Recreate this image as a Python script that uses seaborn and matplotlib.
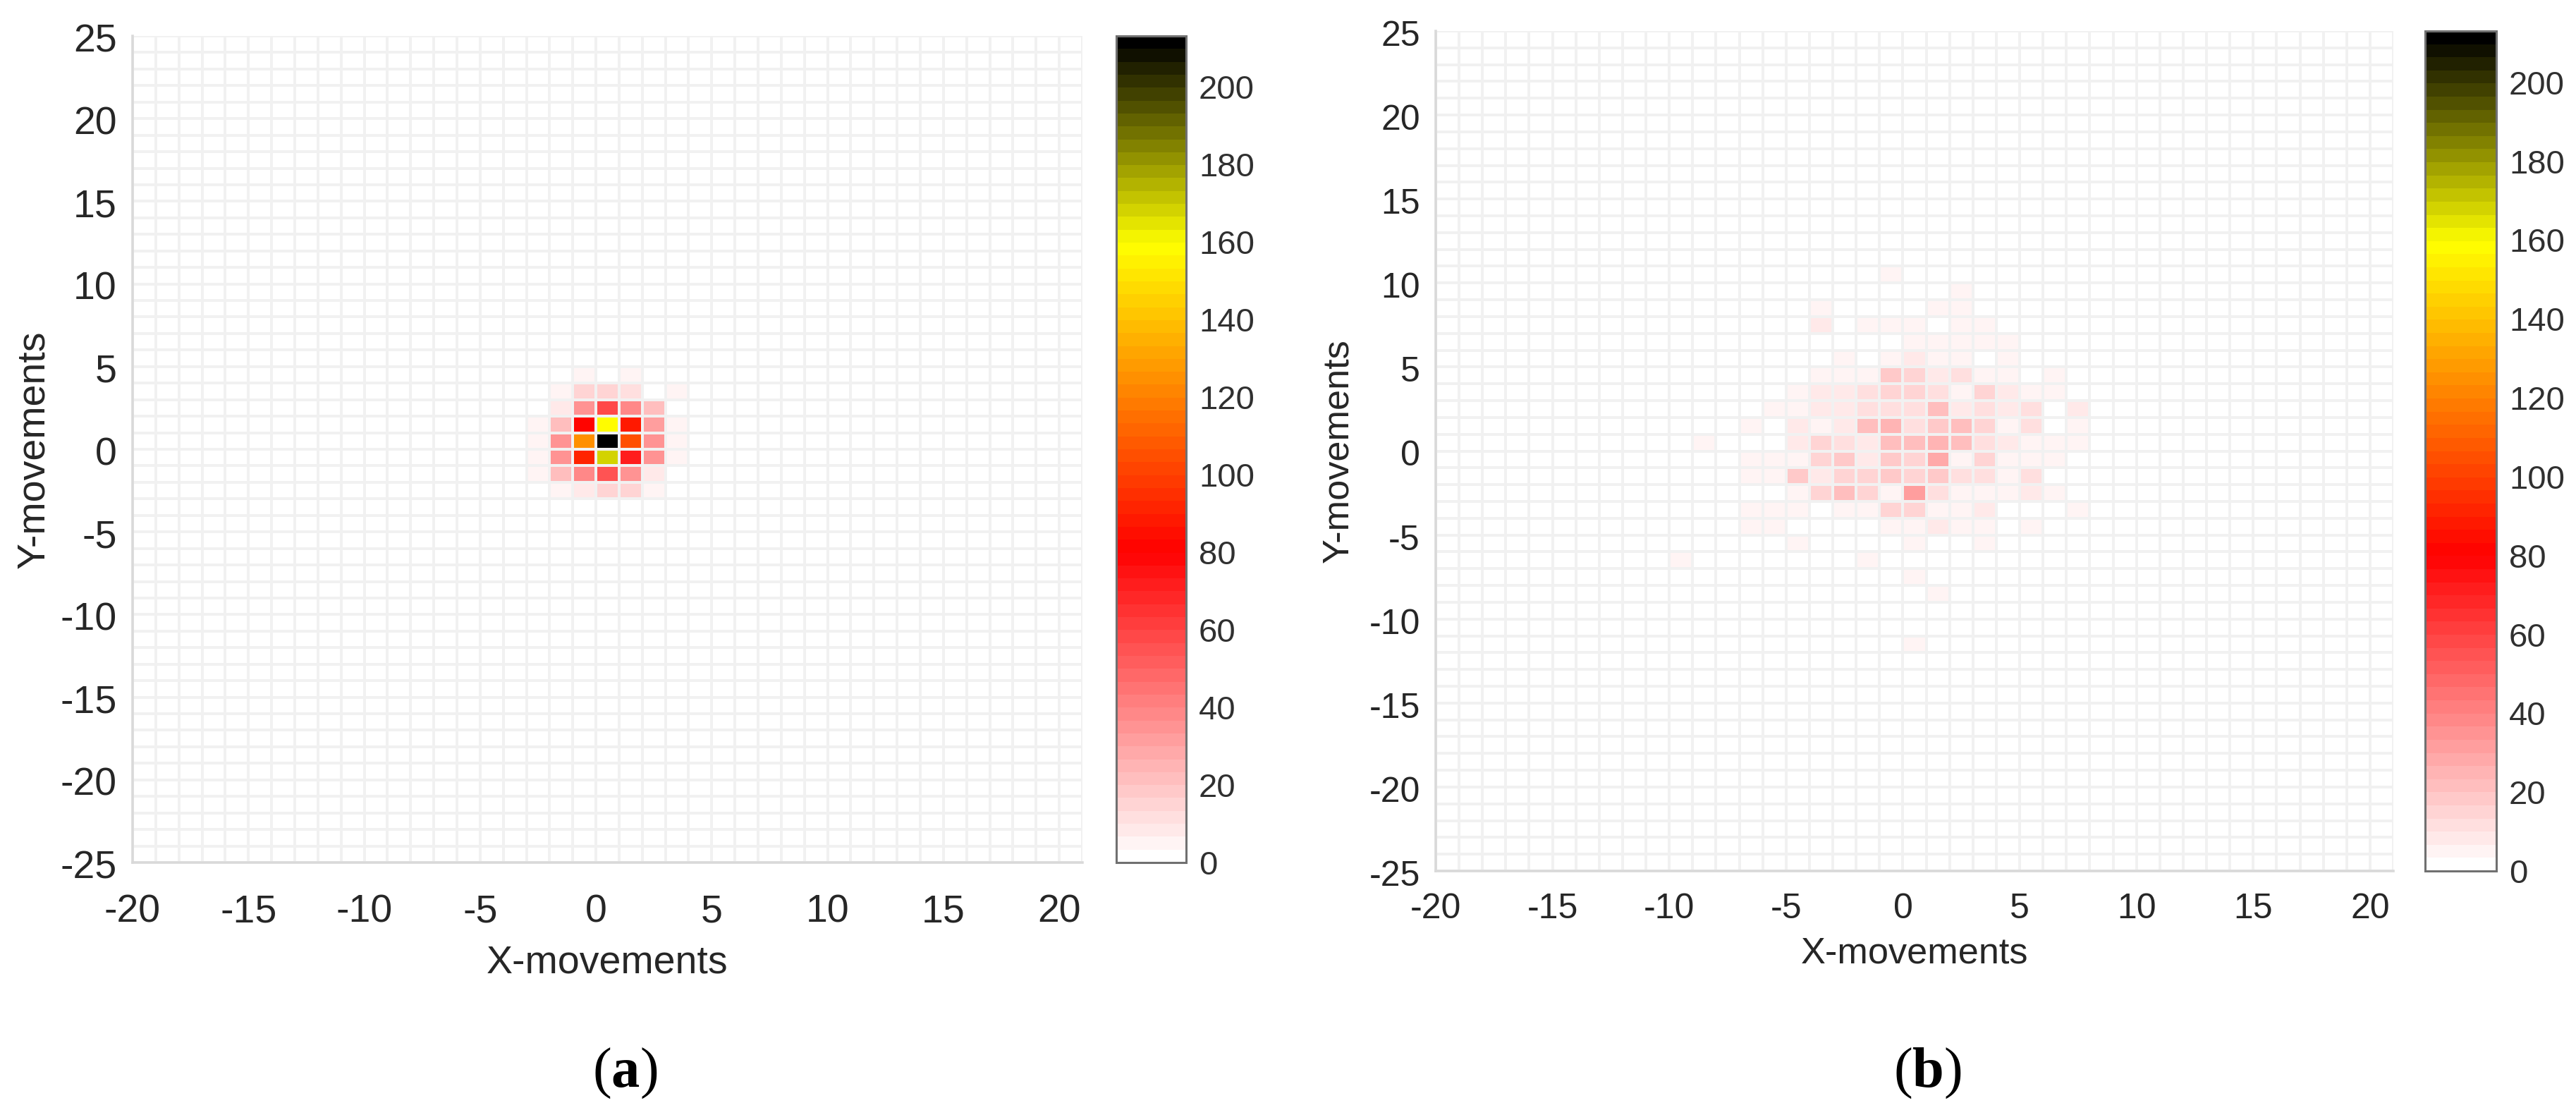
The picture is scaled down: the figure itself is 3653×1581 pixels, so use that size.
import matplotlib
matplotlib.use("Agg")
import matplotlib.pyplot as plt
import matplotlib.transforms as mtransforms
import numpy as np
import pandas as pd
import seaborn as sns
from matplotlib.colors import LinearSegmentedColormap

W, H = 3653, 1581
DPI = 200

x_bins = list(range(-20, 21))
y_bins = list(range(24, -26, -1))
x_ticks = [-20, -15, -10, -5, 0, 5, 10, 15, 20]
y_ticks = [25, 20, 15, 10, 5, 0, -5, -10, -15, -20, -25]
cbar_ticks = [0, 20, 40, 60, 80, 100, 120, 140, 160, 180, 200]
vmax = 213

# panel (a): only the occupied block, everything else is 0
a_cols = [-3, -2, -1, 0, 1, 2, 3]
a_rows = [4, 3, 2, 1, 0, -1, -2, -3]
a_counts = [
    [0, 0, 5, 0, 5, 0, 0],
    [0, 6, 14, 15, 12, 0, 5],
    [0, 9, 36, 58, 38, 22, 0],
    [5, 20, 80, 158, 88, 32, 5],
    [5, 36, 125, 213, 105, 36, 5],
    [6, 36, 92, 168, 72, 34, 5],
    [5, 20, 38, 56, 36, 8, 0],
    [0, 6, 9, 14, 14, 5, 0],
]

# panel (b)
b_cols = [-10, -9, -8, -7, -6, -5, -4, -3, -2, -1, 0, 1, 2, 3, 4, 5, 6, 7]
b_rows = [10, 9, 8, 7, 6, 5, 4, 3, 2, 1, 0, -1, -2, -3, -4, -5, -6, -7, -8, -9, -10, -11, -12]
b_counts = [
    [0, 0, 0, 0, 0, 0, 0, 0, 0, 5, 0, 0, 0, 0, 0, 0, 0, 0],
    [0, 0, 0, 0, 0, 0, 0, 0, 0, 0, 0, 0, 5, 0, 0, 0, 0, 0],
    [0, 0, 0, 0, 0, 0, 5, 0, 0, 0, 0, 5, 5, 0, 0, 0, 0, 0],
    [0, 0, 0, 0, 0, 0, 8, 0, 5, 5, 5, 0, 5, 5, 0, 0, 0, 0],
    [0, 0, 0, 0, 0, 0, 0, 0, 0, 0, 5, 5, 5, 5, 5, 0, 0, 0],
    [0, 0, 0, 0, 0, 0, 0, 6, 0, 5, 7, 5, 5, 0, 5, 0, 0, 0],
    [0, 0, 0, 0, 0, 0, 5, 5, 5, 18, 14, 8, 12, 5, 5, 0, 5, 0],
    [0, 0, 0, 0, 0, 5, 8, 7, 12, 16, 14, 12, 5, 16, 7, 5, 6, 0],
    [0, 0, 0, 0, 5, 5, 9, 7, 12, 12, 12, 22, 7, 12, 7, 12, 0, 7],
    [0, 0, 0, 5, 0, 7, 5, 7, 20, 26, 11, 18, 21, 14, 5, 12, 0, 6],
    [0, 5, 0, 0, 0, 7, 14, 10, 8, 22, 20, 26, 22, 10, 7, 5, 6, 6],
    [0, 0, 0, 5, 5, 6, 14, 18, 8, 18, 14, 28, 6, 16, 5, 5, 5, 0],
    [0, 0, 0, 5, 5, 18, 8, 14, 14, 18, 14, 18, 12, 10, 6, 12, 0, 0],
    [0, 0, 0, 0, 0, 5, 16, 20, 14, 6, 30, 12, 6, 5, 5, 7, 5, 0],
    [0, 0, 0, 5, 5, 5, 0, 5, 6, 16, 16, 5, 6, 7, 0, 0, 0, 5],
    [0, 0, 0, 5, 5, 0, 0, 0, 0, 5, 5, 8, 5, 5, 0, 5, 0, 0],
    [0, 0, 0, 0, 0, 6, 0, 0, 0, 0, 5, 0, 0, 5, 0, 0, 0, 0],
    [5, 0, 0, 0, 0, 0, 0, 0, 5, 0, 0, 0, 0, 0, 0, 0, 0, 0],
    [0, 0, 0, 0, 0, 0, 0, 0, 0, 0, 5, 0, 0, 0, 0, 0, 0, 0],
    [0, 0, 0, 0, 0, 0, 0, 0, 0, 0, 0, 5, 0, 0, 0, 0, 0, 0],
    [0, 0, 0, 0, 0, 0, 0, 0, 0, 0, 0, 0, 0, 0, 0, 0, 0, 0],
    [0, 0, 0, 0, 0, 0, 0, 0, 0, 0, 0, 0, 0, 0, 0, 0, 0, 0],
    [0, 0, 0, 0, 0, 0, 0, 0, 0, 0, 5, 0, 0, 0, 0, 0, 0, 0],
]

# white -> red -> yellow -> black in 64 flat levels
cmap_colors = [(0, "#ffffff"), (80 / vmax, "#ff0000"), (160 / vmax, "#ffff00"), (1, "#000000")]
cmap = LinearSegmentedColormap.from_list("movement", cmap_colors, N=64)

sns.set_theme(style="white")
plt.rcParams["font.family"] = ["Liberation Sans", "DejaVu Sans"]
plt.rcParams["mathtext.fontset"] = "custom"
plt.rcParams["mathtext.rm"] = "Liberation Serif"
plt.rcParams["mathtext.bf"] = "Liberation Serif:bold"

fig = plt.figure(figsize=(W / DPI, H / DPI), dpi=DPI, facecolor="white")


def box(left, top, right, bottom):
    return [left / W, 1 - bottom / H, (right - left) / W, (bottom - top) / H]


def draw_panel(cols, rows, counts, ax_box, cax_box, tick_size, label_size, x_pad, y_pad, xlabel_top, ylabel_right):
    table = pd.DataFrame(np.array(counts), index=rows, columns=cols)
    table = table.reindex(index=y_bins, columns=x_bins).fillna(0)

    ax = fig.add_axes(box(*ax_box))
    cax = fig.add_axes(box(*cax_box))
    sns.heatmap(table, ax=ax, cbar_ax=cax, cmap=cmap, vmin=0, vmax=vmax,
                linewidths=0.8, linecolor="#f1f1f1", cbar_kws={"ticks": cbar_ticks})

    ax.set_xticks([v + 20 for v in x_ticks], labels=[str(v) for v in x_ticks], rotation=0)
    ax.set_yticks([25 - v for v in y_ticks], labels=[str(v) for v in y_ticks], rotation=0)
    ax.tick_params(axis="x", length=0, pad=x_pad, labelsize=tick_size, labelcolor="#262626")
    ax.tick_params(axis="y", length=0, pad=y_pad, labelsize=tick_size, labelcolor="#262626")
    # the y labels sit a little under their grid line in the original
    shift = mtransforms.ScaledTranslation(0, -8 / DPI, fig.dpi_scale_trans)
    for label in ax.get_yticklabels():
        label.set_transform(label.get_transform() + shift)

    ax.set_xlabel("X-movements", fontsize=label_size, color="#262626")
    ax.set_ylabel("Y-movements", fontsize=label_size, color="#262626")

    # label anchors are given in pixels of the output image
    l, t, r, b = ax_box
    ax.xaxis.set_label_coords(0.5, (b - xlabel_top) / (b - t))
    ax.yaxis.set_label_coords((ylabel_right - l) / (r - l), 0.5)

    for side in ["left", "bottom"]:
        ax.spines[side].set_visible(True)
        ax.spines[side].set_color("#d9d9d9")
        ax.spines[side].set_linewidth(1.3)

    cbar = ax.collections[0].colorbar
    cbar.ax.tick_params(axis="y", direction="in", right=True, length=3.6, width=0.7,
                        color="#444444", pad=6.5, labelsize=17, labelcolor="#303030")
    cbar.outline.set_visible(True)
    cbar.outline.set_edgecolor("#707070")
    cbar.outline.set_linewidth(1.1)
    return ax


draw_panel(a_cols, a_rows, a_counts, (188, 51, 1535, 1223), (1583, 51, 1682, 1223),
           20, 20, 16, 8, 1340, 74)
draw_panel(b_cols, b_rows, b_counts, (2036, 44, 3394, 1235), (3439, 44, 3540, 1235),
           18, 18.8, 11, 8, 1327, 1922)

fig.text(886 / W, 1 - 1522 / H, r"($\mathbf{a}$)", family="Liberation Serif", fontsize=29,
         color="black", ha="center", va="center")
fig.text(2733 / W, 1 - 1522 / H, r"($\mathbf{b}$)", family="Liberation Serif", fontsize=29,
         color="black", ha="center", va="center")

fig.savefig("out.png", dpi=DPI, facecolor="white")
